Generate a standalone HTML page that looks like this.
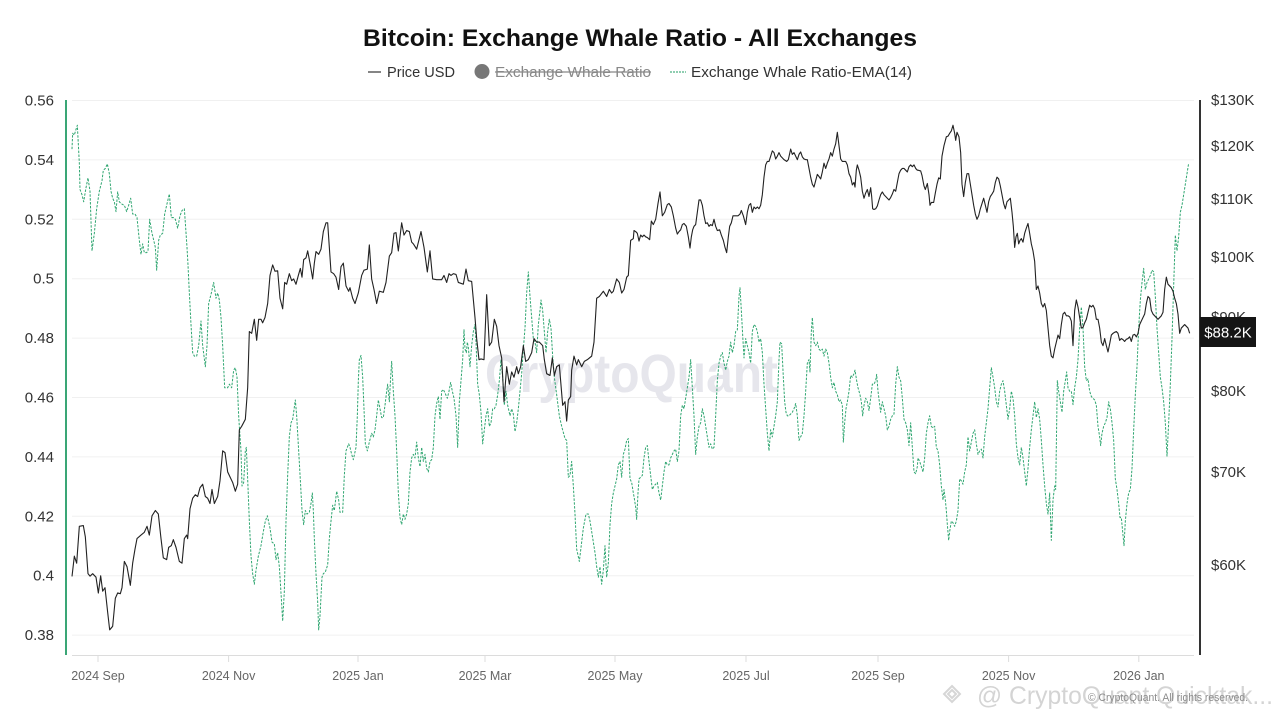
<!DOCTYPE html>
<html><head><meta charset="utf-8"><style>
html,body{margin:0;padding:0;background:#fff;}
svg{display:block;font-family:"Liberation Sans",Arial,sans-serif;}
</style></head><body>
<svg width="1280" height="720" viewBox="0 0 1280 720" xmlns="http://www.w3.org/2000/svg">
<rect width="1280" height="720" fill="#fff"/>
<text x="640" y="46" text-anchor="middle" font-size="24" font-weight="bold" fill="#111" textLength="554" lengthAdjust="spacingAndGlyphs">Bitcoin: Exchange Whale Ratio - All Exchanges</text>
<g font-size="14.5" fill="#333">
<line x1="368" y1="72" x2="381" y2="72" stroke="#333" stroke-width="1.2"/>
<text x="387" y="77" textLength="68" lengthAdjust="spacingAndGlyphs">Price USD</text>
<circle cx="482" cy="71.5" r="7.5" fill="#777"/>
<text x="495" y="77" fill="#888" textLength="156" lengthAdjust="spacingAndGlyphs">Exchange Whale Ratio</text>
<line x1="495" y1="72" x2="651" y2="72" stroke="#888" stroke-width="1.2"/>
<line x1="670" y1="72" x2="686" y2="72" stroke="#1f9d63" stroke-width="1" stroke-dasharray="2,1"/>
<text x="691" y="77" textLength="221" lengthAdjust="spacingAndGlyphs">Exchange Whale Ratio-EMA(14)</text>
</g>
<g stroke="#f0f0f0" stroke-width="1">
<line x1="72" y1="100.5" x2="1194" y2="100.5"/>
<line x1="72" y1="159.9" x2="1194" y2="159.9"/>
<line x1="72" y1="219.3" x2="1194" y2="219.3"/>
<line x1="72" y1="278.7" x2="1194" y2="278.7"/>
<line x1="72" y1="338.1" x2="1194" y2="338.1"/>
<line x1="72" y1="397.5" x2="1194" y2="397.5"/>
<line x1="72" y1="456.9" x2="1194" y2="456.9"/>
<line x1="72" y1="516.3" x2="1194" y2="516.3"/>
<line x1="72" y1="575.7" x2="1194" y2="575.7"/>
<line x1="72" y1="635.1" x2="1194" y2="635.1"/>
</g>
<text x="485" y="392" font-size="54" font-weight="bold" fill="#e6e6ec" textLength="293" lengthAdjust="spacingAndGlyphs">CryptoQuant</text>
<g stroke="#dcdcdc" stroke-width="1">
<line x1="72" y1="655.5" x2="1194" y2="655.5"/>
<line x1="98" y1="655" x2="98" y2="662"/>
<line x1="228.6" y1="655" x2="228.6" y2="662"/>
<line x1="358" y1="655" x2="358" y2="662"/>
<line x1="485" y1="655" x2="485" y2="662"/>
<line x1="615" y1="655" x2="615" y2="662"/>
<line x1="746" y1="655" x2="746" y2="662"/>
<line x1="878" y1="655" x2="878" y2="662"/>
<line x1="1008.6" y1="655" x2="1008.6" y2="662"/>
<line x1="1138.8" y1="655" x2="1138.8" y2="662"/>
</g>
<g font-size="12.5" fill="#666" text-anchor="middle">
<text x="98" y="680">2024 Sep</text>
<text x="228.6" y="680">2024 Nov</text>
<text x="358" y="680">2025 Jan</text>
<text x="485" y="680">2025 Mar</text>
<text x="615" y="680">2025 May</text>
<text x="746" y="680">2025 Jul</text>
<text x="878" y="680">2025 Sep</text>
<text x="1008.6" y="680">2025 Nov</text>
<text x="1138.8" y="680">2026 Jan</text>
</g>
<g font-size="15" fill="#333" text-anchor="end">
<text x="54" y="105.5">0.56</text>
<text x="54" y="164.9">0.54</text>
<text x="54" y="224.3">0.52</text>
<text x="54" y="283.7">0.5</text>
<text x="54" y="343.1">0.48</text>
<text x="54" y="402.5">0.46</text>
<text x="54" y="461.9">0.44</text>
<text x="54" y="521.3">0.42</text>
<text x="54" y="580.7">0.4</text>
<text x="54" y="640.1">0.38</text>
</g>
<g font-size="15" fill="#333">
<text x="1211" y="105">$130K</text>
<text x="1211" y="151">$120K</text>
<text x="1211" y="204">$110K</text>
<text x="1211" y="262">$100K</text>
<text x="1211" y="322">$90K</text>
<text x="1211" y="396">$80K</text>
<text x="1211" y="477">$70K</text>
<text x="1211" y="570">$60K</text>
</g>
<g transform="translate(66,100) scale(0.333333,0.350877)" fill="none" stroke-linejoin="round">
<polyline stroke="#1a9c62" stroke-width="3" stroke-dasharray="7,4" opacity="0.9" points="18,140 20,95 25,100 28,90 34,72 40,180 42,255 48,270 53,290 60,250 66,222 72,260 78,430 85,380 92,310 100,260 108,230 112,200 118,195 124,182 130,210 135,260 140,280 145,290 150,318 155,262 160,290 165,295 170,298 175,300 182,318 188,300 194,280 200,325 207,325 213,335 220,400 225,440 230,410 235,435 242,435 246,430 251,340 258,380 262,395 268,420 272,485 278,400 283,385 290,380 296,325 302,300 310,268 316,335 322,335 328,340 335,365 342,330 348,315 355,310 358,350 363,420 366,470 370,550 375,640 380,720 385,730 392,730 398,700 405,630 410,700 418,760 423,700 428,580 436,550 443,520 450,565 455,550 460,570 465,620 470,700 476,820 485,820 490,810 497,820 503,770 508,763 513,790 518,900 520,930 525,1000 528,1100 533,1090 538,1000 541,990 545,1080 550,1200 555,1300 560,1350 565,1380 570,1340 577,1300 585,1270 592,1230 598,1200 604,1185 612,1220 618,1260 625,1265 630,1310 635,1290 640,1330 646,1420 650,1485 655,1400 660,1200 665,1070 670,960 675,920 680,910 688,855 692,900 698,1000 704,1100 708,1170 713,1210 718,1170 723,1180 730,1175 735,1150 739,1120 742,1170 745,1250 750,1350 755,1430 758,1510 762,1470 768,1360 772,1350 778,1345 785,1325 790,1250 795,1200 800,1155 805,1170 812,1115 818,1140 822,1175 830,1175 835,1070 840,1000 848,980 852,990 857,1010 862,1025 870,990 874,900 877,800 880,740 885,728 890,790 894,880 898,980 904,1000 910,975 917,950 922,960 927,940 932,900 937,855 942,880 947,905 952,905 957,870 962,830 965,810 970,860 974,790 977,745 982,830 987,900 992,1000 997,1120 1002,1190 1007,1210 1012,1180 1017,1195 1022,1180 1027,1150 1032,1060 1037,1020 1042,1010 1047,1020 1052,975 1057,1020 1062,1045 1067,990 1072,1030 1077,1010 1082,1050 1087,1060 1092,1030 1097,1025 1102,990 1107,900 1112,865 1117,845 1122,910 1127,830 1132,825 1137,835 1144,850 1149,830 1154,805 1159,830 1164,850 1170,900 1175,990 1180,860 1185,800 1190,740 1194,655 1197,710 1201,720 1204,690 1207,705 1212,760 1217,700 1222,660 1227,640 1230,690 1235,810 1240,840 1245,890 1250,980 1255,940 1260,900 1265,880 1270,930 1275,920 1280,880 1285,880 1290,870 1295,840 1300,800 1305,740 1310,790 1315,870 1320,830 1325,870 1332,900 1337,880 1342,895 1347,945 1352,920 1357,880 1362,830 1367,780 1372,710 1377,650 1382,550 1387,490 1392,560 1397,620 1402,680 1407,690 1412,720 1417,640 1422,600 1425,570 1430,600 1435,660 1440,720 1445,660 1450,625 1455,650 1460,730 1465,790 1472,840 1480,900 1487,930 1497,965 1502,970 1507,1075 1512,1070 1517,1030 1522,1100 1527,1180 1532,1280 1540,1315 1547,1260 1552,1220 1560,1180 1567,1180 1572,1200 1577,1230 1582,1260 1587,1290 1592,1330 1597,1360 1602,1330 1607,1380 1612,1340 1617,1270 1622,1360 1627,1320 1632,1210 1637,1150 1642,1120 1647,1100 1652,1080 1657,1040 1662,1030 1667,1075 1672,1010 1677,995 1682,970 1687,965 1692,1080 1697,1090 1702,1120 1704,1130 1709,1160 1712,1195 1716,1120 1719,1080 1724,1075 1729,1070 1734,1020 1739,990 1744,985 1749,1030 1754,1070 1759,1110 1764,1100 1769,1095 1774,1090 1779,1120 1784,1140 1789,1100 1794,1060 1799,1030 1804,1040 1809,1040 1814,1020 1819,1010 1824,1000 1829,995 1834,1030 1839,1000 1844,900 1849,870 1854,880 1859,850 1864,820 1869,790 1874,740 1879,820 1884,900 1889,1010 1894,960 1899,930 1904,920 1909,880 1914,900 1919,930 1924,960 1929,990 1934,980 1939,995 1944,990 1949,900 1954,800 1959,750 1964,730 1969,720 1974,750 1979,770 1984,745 1989,730 1994,690 1999,720 2004,700 2009,660 2014,655 2019,560 2022,535 2026,600 2030,670 2034,735 2039,680 2044,700 2049,720 2054,750 2059,660 2064,640 2069,645 2074,660 2079,690 2084,680 2089,720 2094,810 2099,880 2104,950 2109,1000 2114,940 2119,960 2124,930 2129,900 2134,860 2139,740 2142,690 2147,695 2152,790 2156,860 2160,890 2164,900 2169,900 2174,895 2179,890 2184,880 2189,865 2194,900 2199,970 2204,960 2209,950 2214,900 2219,830 2224,750 2229,740 2232,775 2236,660 2239,620 2244,690 2249,700 2254,690 2259,710 2264,715 2269,710 2274,730 2279,710 2284,720 2289,750 2294,790 2299,820 2304,805 2309,830 2314,840 2319,860 2324,855 2329,870 2332,975 2336,920 2340,880 2344,860 2349,830 2354,785 2359,790 2364,780 2367,770 2372,800 2376,820 2382,840 2386,860 2390,900 2394,870 2399,850 2404,860 2409,885 2414,850 2419,810 2424,810 2429,800 2432,782 2436,830 2440,860 2444,890 2449,860 2454,880 2459,900 2464,940 2469,930 2474,910 2479,900 2484,895 2489,810 2494,760 2499,790 2504,800 2509,850 2514,910 2519,920 2524,940 2529,985 2534,920 2539,990 2544,1060 2549,1065 2554,1045 2556,1020 2561,1030 2566,1045 2571,1060 2576,1020 2581,950 2586,920 2591,900 2596,930 2601,935 2606,930 2611,990 2616,1000 2621,1040 2626,1100 2631,1140 2634,1110 2638,1140 2641,1170 2644,1210 2648,1255 2651,1230 2656,1200 2661,1205 2666,1215 2671,1200 2676,1170 2681,1080 2686,1085 2691,1095 2696,1060 2701,1040 2706,960 2711,1000 2716,975 2721,950 2726,940 2731,980 2736,1010 2741,1000 2746,995 2751,1020 2756,960 2761,920 2766,880 2771,820 2776,763 2781,790 2786,820 2791,860 2796,875 2801,830 2806,810 2811,800 2816,830 2821,870 2826,910 2831,880 2836,830 2841,850 2846,900 2851,980 2856,1020 2861,1040 2866,990 2871,1020 2876,1060 2881,1100 2886,1050 2891,990 2896,940 2901,900 2906,860 2911,905 2916,880 2921,910 2926,970 2931,1040 2936,1100 2941,1150 2946,1180 2951,1120 2956,1255 2961,1140 2966,1100 2969,1110 2974,800 2978,830 2983,860 2988,890 2993,830 2998,800 3002,775 3006,820 3011,830 3016,830 3021,868 3026,820 3031,790 3036,740 3041,650 3046,590 3051,650 3056,760 3061,800 3066,795 3071,830 3076,845 3081,850 3086,855 3091,870 3096,930 3101,960 3104,985 3108,950 3113,930 3118,920 3123,905 3128,860 3133,880 3138,920 3143,970 3148,1080 3153,1110 3158,1150 3162,1190 3166,1190 3171,1240 3174,1270 3178,1200 3183,1150 3188,1120 3193,1110 3198,1050 3203,940 3208,840 3213,760 3218,650 3223,570 3228,520 3233,480 3238,540 3243,520 3248,510 3253,500 3258,485 3263,490 3268,560 3273,650 3278,720 3283,790 3288,820 3293,860 3298,920 3303,1015 3308,920 3313,810 3318,680 3323,530 3328,385 3333,430 3338,390 3343,320 3348,300 3353,270 3358,240 3363,210 3368,180"/>
<polyline stroke="#222" stroke-width="3.3" points="18,1358 25,1300 32,1320 40,1215 52,1213 58,1245 66,1350 72,1357 80,1350 90,1360 97,1405 104,1356 110,1400 117,1390 125,1460 131,1510 140,1500 148,1420 155,1405 163,1407 168,1390 175,1315 183,1330 193,1383 200,1320 207,1280 213,1250 225,1240 235,1232 243,1215 250,1240 258,1185 268,1170 277,1180 285,1250 292,1305 302,1310 308,1275 316,1270 322,1253 330,1275 340,1315 348,1320 355,1250 362,1240 365,1250 372,1165 380,1135 388,1125 395,1130 402,1105 410,1095 418,1130 425,1135 432,1150 438,1110 445,1150 455,1130 462,1085 470,1000 477,1005 485,1060 495,1080 500,1090 508,1115 515,1095 520,940 527,930 538,910 545,820 550,660 557,665 565,625 572,685 578,625 585,625 590,635 597,620 605,580 612,500 620,470 627,488 635,487 642,565 650,595 656,520 662,525 670,495 677,515 683,510 690,525 697,500 703,480 708,505 713,455 720,450 725,430 733,470 740,510 745,465 750,432 758,440 765,425 772,375 780,350 785,350 795,490 803,495 810,505 818,540 825,475 832,465 840,530 848,545 852,535 860,565 867,580 877,550 887,500 894,485 904,482 910,413 917,510 924,540 932,580 940,545 952,548 960,520 970,445 977,435 984,380 990,378 997,430 1007,350 1014,385 1022,372 1030,375 1037,405 1042,410 1052,425 1065,375 1074,420 1084,490 1092,430 1100,510 1112,512 1127,512 1134,500 1142,520 1149,495 1155,500 1162,495 1170,497 1177,520 1192,525 1200,482 1207,515 1217,517 1227,620 1232,680 1239,740 1245,738 1254,740 1262,555 1270,700 1277,690 1285,625 1292,645 1299,700 1307,735 1314,860 1322,760 1330,810 1337,775 1344,790 1352,760 1357,780 1364,760 1372,700 1379,745 1387,740 1397,720 1404,680 1412,690 1420,690 1430,700 1435,740 1442,780 1452,785 1459,735 1465,785 1472,760 1480,755 1490,870 1497,860 1502,915 1507,855 1514,845 1517,770 1524,730 1532,755 1537,740 1547,760 1555,745 1564,740 1577,730 1584,690 1592,565 1600,560 1612,545 1622,560 1630,540 1637,550 1642,545 1652,510 1660,520 1667,550 1674,540 1682,505 1687,500 1694,400 1702,395 1704,372 1709,375 1714,380 1719,402 1724,385 1729,390 1734,385 1739,390 1744,392 1751,398 1756,345 1762,355 1769,340 1776,295 1782,262 1789,330 1796,320 1804,298 1809,295 1816,305 1822,330 1829,365 1834,382 1839,375 1844,370 1849,355 1854,352 1861,360 1867,390 1872,422 1876,390 1880,370 1884,360 1889,355 1894,320 1899,285 1904,285 1909,300 1914,330 1919,352 1924,350 1929,360 1934,355 1939,358 1944,340 1949,360 1954,372 1961,370 1966,385 1972,400 1977,420 1982,435 1987,390 1991,360 1996,350 2001,330 2009,330 2016,330 2022,325 2026,315 2032,330 2039,355 2044,320 2049,300 2054,295 2059,320 2064,305 2069,310 2074,305 2079,310 2084,300 2089,270 2094,220 2099,185 2104,175 2109,175 2114,160 2119,145 2124,150 2129,168 2134,160 2139,150 2144,160 2149,165 2154,170 2162,175 2167,170 2174,140 2179,155 2184,150 2189,160 2194,170 2199,155 2204,148 2209,162 2214,168 2219,170 2224,170 2229,195 2234,220 2239,240 2244,248 2249,230 2254,212 2259,218 2264,225 2269,205 2274,180 2279,195 2284,180 2289,168 2294,150 2299,160 2304,140 2309,125 2314,92 2319,130 2324,168 2329,175 2334,175 2339,175 2344,185 2349,210 2354,220 2359,242 2364,235 2367,248 2371,200 2374,185 2379,200 2384,220 2389,260 2394,280 2399,265 2404,255 2409,275 2414,250 2417,275 2420,310 2424,312 2429,310 2434,302 2439,285 2444,270 2449,262 2454,270 2459,275 2464,280 2469,285 2474,278 2479,268 2484,255 2489,260 2494,235 2499,210 2504,200 2509,195 2514,195 2519,200 2524,205 2529,190 2534,185 2539,190 2544,185 2549,195 2554,200 2556,200 2564,202 2568,215 2574,245 2578,255 2584,238 2589,270 2592,300 2596,292 2603,292 2608,265 2613,240 2618,222 2623,225 2628,160 2634,130 2641,105 2646,103 2651,95 2656,88 2661,72 2666,95 2669,115 2673,92 2679,105 2684,150 2688,240 2693,275 2698,235 2703,210 2708,210 2713,240 2718,270 2723,300 2728,325 2733,340 2738,330 2743,310 2748,295 2753,280 2758,300 2763,320 2768,290 2773,275 2778,268 2783,260 2788,235 2793,220 2798,225 2803,245 2808,270 2813,295 2818,310 2823,290 2828,285 2833,280 2838,320 2842,360 2846,420 2850,390 2854,380 2858,410 2862,400 2866,395 2871,405 2876,380 2881,365 2886,352 2891,380 2896,410 2901,430 2906,460 2911,540 2916,530 2921,550 2926,580 2931,590 2936,580 2941,600 2946,650 2951,700 2956,730 2961,735 2966,710 2971,690 2976,670 2981,680 2986,640 2991,610 2996,605 3001,615 3006,615 3011,618 3016,630 3021,700 3026,600 3031,570 3036,590 3041,620 3046,650 3051,648 3056,635 3061,625 3066,605 3071,585 3076,590 3081,585 3086,595 3091,625 3096,625 3101,650 3106,690 3111,700 3116,680 3121,700 3126,718 3131,695 3136,670 3141,665 3146,662 3151,660 3156,665 3161,685 3166,680 3171,683 3176,688 3181,682 3186,680 3191,675 3196,688 3201,670 3206,668 3211,675 3216,665 3221,640 3226,630 3231,620 3236,610 3241,580 3246,560 3251,565 3256,600 3261,610 3266,615 3271,620 3276,625 3281,620 3286,615 3291,605 3296,540 3301,505 3306,525 3311,530 3316,535 3321,545 3326,565 3331,580 3336,610 3341,665 3346,650 3351,645 3356,640 3361,645 3366,650 3371,665"/>
</g>
<line x1="66" y1="100" x2="66" y2="655" stroke="#3aa676" stroke-width="2"/>
<line x1="1200" y1="100" x2="1200" y2="655" stroke="#333" stroke-width="2"/>
<rect x="1200" y="317" width="56" height="30" fill="#151515"/>
<text x="1228" y="337.5" font-size="15" fill="#fff" text-anchor="middle">$88.2K</text>
<g opacity="0.85">
<g fill="none" stroke="#cfcfcf" stroke-width="2">
<path d="M952,686 L960,694 L952,702 L944,694 Z"/>
<path d="M952,690 L956,694 L952,698 L948,694 Z"/>
</g>
<text x="977" y="704" font-size="25" fill="#cdcdcd" textLength="296" lengthAdjust="spacingAndGlyphs">@ CryptoQuant Quicktak...</text>
<text x="1088" y="701" font-size="11" fill="#777" textLength="160" lengthAdjust="spacingAndGlyphs">© CryptoQuant. All rights reserved.</text>
</g>
</svg>
</body></html>
